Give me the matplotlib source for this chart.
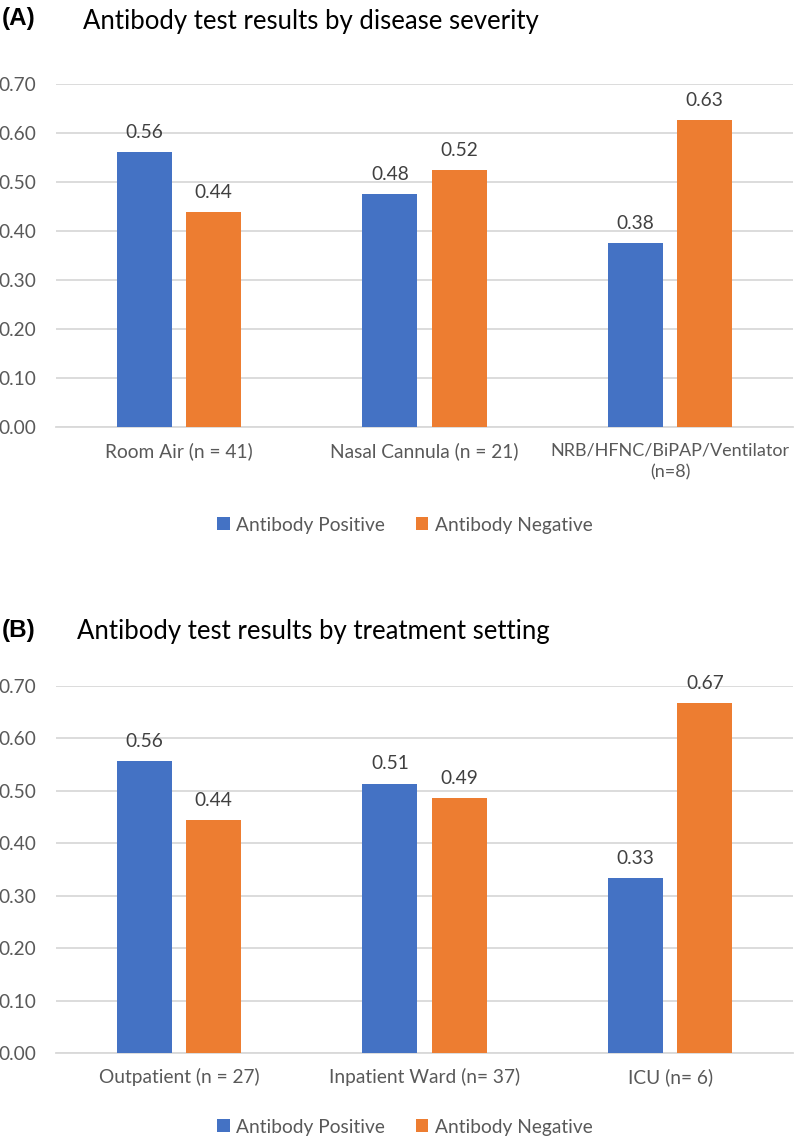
import matplotlib
matplotlib.use("Agg")
import matplotlib.pyplot as plt
import numpy as np
from matplotlib.patches import Patch

# ---- data ----
cats_a = ["Room Air (n = 41)", "Nasal Cannula (n = 21)", "NRB/HFNC/BiPAP/Ventilator\n(n=8)"]
pos_a = [0.561, 0.476, 0.375]
neg_a = [0.439, 0.524, 0.626]

cats_b = ["Outpatient (n = 27)", "Inpatient Ward (n= 37)", "ICU (n= 6)"]
pos_b = [0.556, 0.514, 0.333]
neg_b = [0.444, 0.486, 0.667]

series_names = ["Antibody Positive", "Antibody Negative"]
yticks = [0.0, 0.1, 0.2, 0.3, 0.4, 0.5, 0.6, 0.7]

title_a = "Antibody test results by disease severity"
title_b = "Antibody test results by treatment setting"

# ---- style ----
BLUE = "#4472C4"
ORANGE = "#ED7D31"
GRID = "#D9D9D9"
TXT = "#595959"
LBL = "#404040"
FONT = ["Lato", "DejaVu Sans"]
plt.rcParams["font.family"] = FONT
FS = 13.8

W, H = 796, 1139
fig = plt.figure(figsize=(W / 100, H / 100), dpi=100)


def px_axes(left, right, top, bottom):
    return fig.add_axes([left / W, 1 - bottom / H, (right - left) / W, (bottom - top) / H])


def draw(ax, cats, pos, neg):
    x = np.arange(len(cats))
    bw = 0.224
    off = 0.141
    b1 = ax.bar(x - off, pos, bw, color=BLUE, zorder=3)
    b2 = ax.bar(x + off, neg, bw, color=ORANGE, zorder=3)
    for bars, vals in ((b1, pos), (b2, neg)):
        for r, v in zip(bars, vals):
            ax.annotate(f"{v:.2f}", (r.get_x() + r.get_width() / 2, v),
                        xytext=(0, 8), textcoords="offset points",
                        ha="center", va="bottom", fontsize=FS, color=LBL)
    ax.set_xlim(-0.5, len(cats) - 0.5)
    ax.set_ylim(0, 0.7)
    ax.set_yticks(yticks)
    ax.set_yticklabels([f"{t:.2f}" for t in yticks])
    ax.set_xticks(x)
    ax.set_xticklabels(cats)
    ax.tick_params(axis="y", length=0, pad=14, labelsize=FS, labelcolor=TXT)
    ax.tick_params(axis="x", length=0, pad=11, labelsize=FS, labelcolor=TXT)
    for lab in ax.get_xticklabels():
        if "\n" in lab.get_text():
            lab.set_fontsize(13.0)
            lab.set_linespacing(1.45)
    ax.grid(axis="y", color=GRID, linewidth=1.3, zorder=0)
    for s in ("top", "right", "left"):
        ax.spines[s].set_visible(False)
    ax.spines["bottom"].set_color(GRID)
    ax.spines["bottom"].set_linewidth(1.3)
    ax.spines["bottom"].set_zorder(1)


ax_a = px_axes(56, 793, 84, 427)
draw(ax_a, cats_a, pos_a, neg_a)
ax_b = px_axes(56, 793, 686, 1053)
draw(ax_b, cats_b, pos_b, neg_b)

# titles
fig.text(2 / W, 1 - 19 / H, "(A)", fontsize=17.5, fontweight="bold",
         family=["Liberation Sans", "DejaVu Sans"], ha="left", va="center", color="black")
fig.text(83 / W, 1 - 21 / H, title_a, fontsize=18.5, ha="left", va="center", color="black")
fig.text(2 / W, 1 - 630 / H, "(B)", fontsize=17.5, fontweight="bold",
         family=["Liberation Sans", "DejaVu Sans"], ha="left", va="center", color="black")
fig.text(77 / W, 1 - 632 / H, title_b, fontsize=18.5, ha="left", va="center", color="black")

# legends
handles = [Patch(facecolor=BLUE, edgecolor="none"), Patch(facecolor=ORANGE, edgecolor="none")]
for yc in (525, 1127):
    fig.legend(handles, series_names, loc="center", bbox_to_anchor=(405 / W, 1 - yc / H),
               ncol=2, frameon=False, fontsize=FS, labelcolor=TXT,
               handlelength=0.65, handleheight=0.65, handletextpad=0.35, columnspacing=1.6)

fig.savefig("out.png", dpi=100)
